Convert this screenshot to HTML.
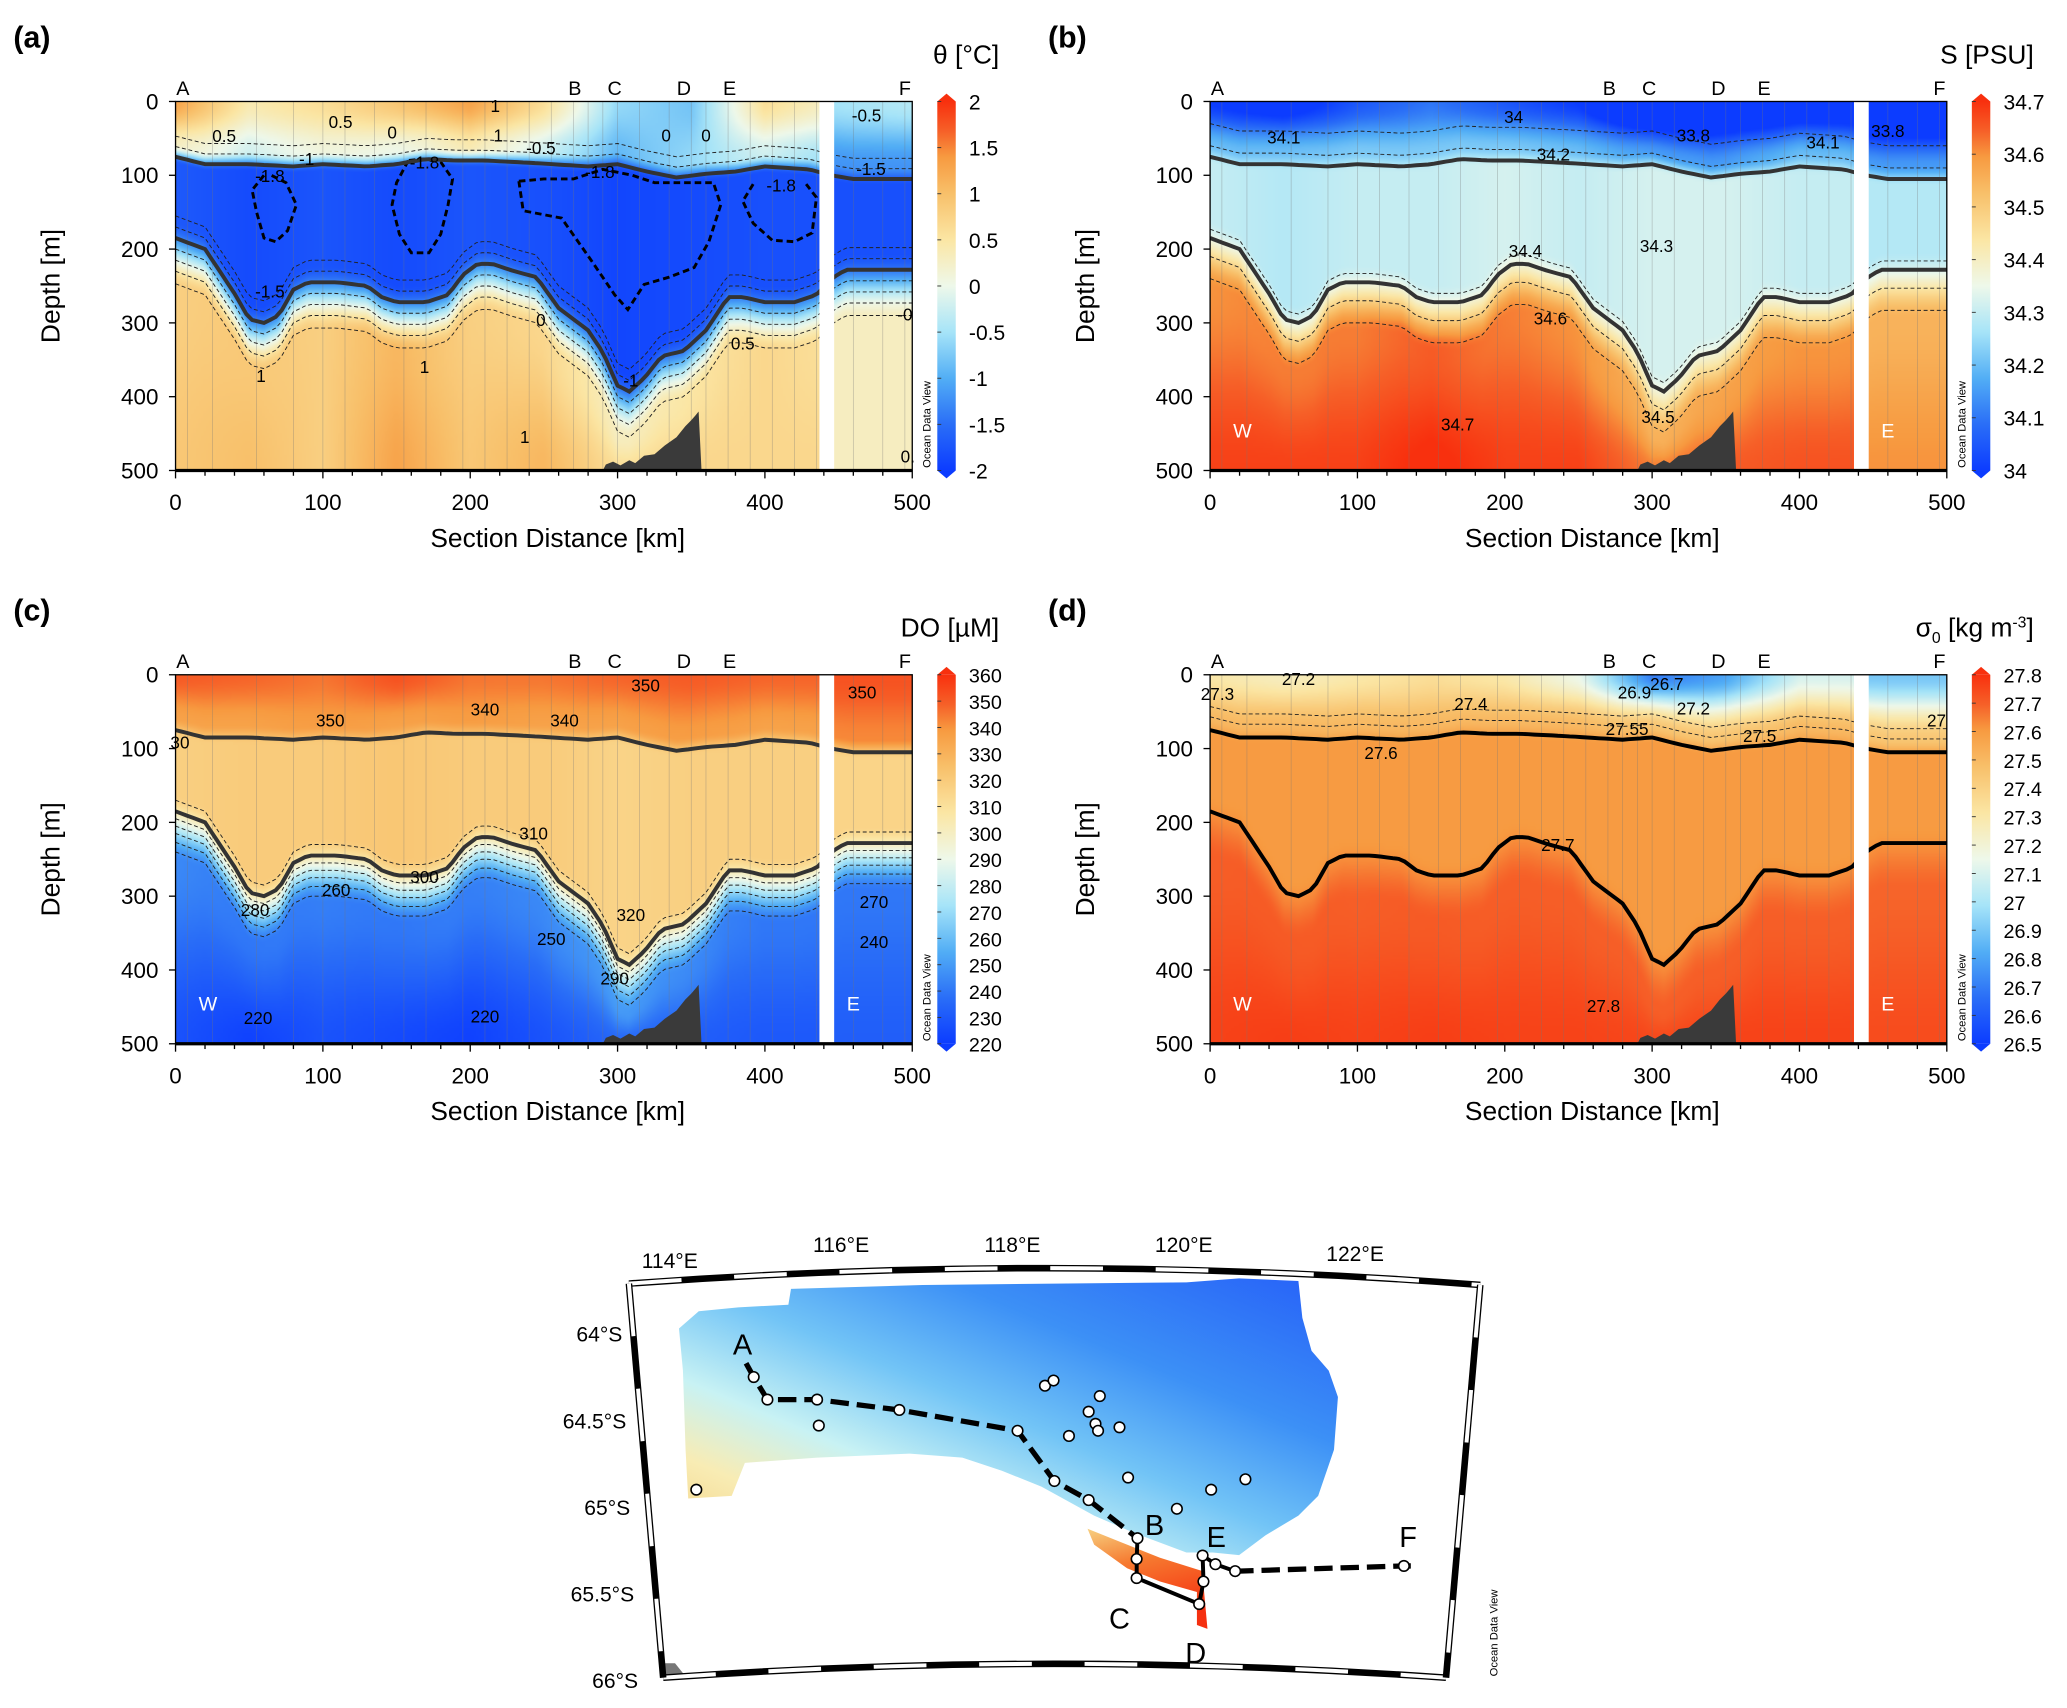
<!DOCTYPE html>
<html><head><meta charset="utf-8">
<style>
html,body{margin:0;padding:0;background:#fff;}
#wrap{position:relative;width:2067px;height:1708px;overflow:hidden;background:#fff;}
canvas{position:absolute;}
svg{position:absolute;left:0;top:0;}
text{font-family:"Liberation Sans",Arial,sans-serif;}
</style></head>
<body>
<div id="wrap">
<canvas id="cv-a"></canvas>
<canvas id="cv-b"></canvas>
<canvas id="cv-c"></canvas>
<canvas id="cv-d"></canvas>
<svg id="fig" width="2067" height="1708" viewBox="0 0 1568 1296" xmlns="http://www.w3.org/2000/svg">
<defs>
<linearGradient id="cbar" x1="0" y1="1" x2="0" y2="0">
<stop offset="0" stop-color="#0c3cff"/><stop offset="0.125" stop-color="#2a6ef7"/>
<stop offset="0.25" stop-color="#52aef5"/><stop offset="0.375" stop-color="#a6e4f8"/>
<stop offset="0.5" stop-color="#eef8ea"/><stop offset="0.625" stop-color="#fbe6a4"/>
<stop offset="0.75" stop-color="#f8c06a"/><stop offset="0.85" stop-color="#f79a40"/>
<stop offset="0.92" stop-color="#f66028"/><stop offset="1" stop-color="#f8300e"/>
</linearGradient>
<linearGradient id="bathy" x1="0" y1="1" x2="1" y2="0">
<stop offset="0" stop-color="#f4cf80"/><stop offset="0.18" stop-color="#f8ecb4"/>
<stop offset="0.32" stop-color="#c8f2f4"/><stop offset="0.5" stop-color="#72c4f6"/>
<stop offset="0.7" stop-color="#3c90f6"/><stop offset="1" stop-color="#2660f8"/>
</linearGradient>
<linearGradient id="slope" x1="0" y1="0" x2="0.3" y2="1">
<stop offset="0" stop-color="#f7d080"/><stop offset="0.4" stop-color="#f67a30"/><stop offset="1" stop-color="#f53010"/>
</linearGradient>
</defs>
<g id="panels"></g>
<g id="map"></g>
</svg>
</div>
<script>
// ---------- DATA ----------
const fieldKm = [0,50,100,150,200,250,300,350,400,437,447,500];
const lineKm  = [0,20,40,50,60,70,80,90,110,130,140,150,170,185,195,205,215,230,245,260,280,290,300,308,318,330,345,360,375,385,400,420,435,445,455,500];
const lowerDepth = [185,200,260,295,300,290,255,245,245,250,265,272,272,262,235,220,220,230,238,280,310,340,385,393,375,345,338,310,265,265,272,272,262,240,228,228];
const upperKm = [0,20,50,80,100,130,150,170,190,210,240,280,300,320,340,360,380,400,430,445,460,500];
const upperDepth = [75,85,85,88,85,88,85,78,80,80,83,88,85,95,103,98,95,88,92,100,105,105];
const seafloorKm = [290,292,297,302,308,312,318,325,332,340,346,350,353,355,357];
const seafloorDepth = [500,492,488,493,486,490,480,478,466,455,440,432,425,420,500];
const stationKm = [8,25,55,80,100,115,135,155,170,195,210,225,240,255,270,280,290,300,315,335,350,360,375,390,405,420,435,460,480,495];
const sectionLetters = ["A","B","C","D","E","F"];
const sectionLetterKm = [5,271,298,345,376,495];

const aTop=[1.3,0.4,0.6,0.9,1.3,0.6,-0.6,-0.8,0.6,0.3,-0.5,-0.4];
const aSurf=[0.3,-0.2,0.1,0.0,0.4,-0.2,-0.9,-0.6,-0.2,-0.5,-1.2,-1.2];
const aCore=[-1.7,-1.85,-1.75,-1.85,-1.75,-1.8,-1.9,-1.85,-1.8,-1.8,-1.8,-1.8];
const aDeep=[0.8,0.9,0.8,1.1,0.8,0.7,0.3,0.5,0.7,0.6,0.3,0.3];
const aBottom=[0.9,1.0,0.8,1.3,0.9,1.1,0.6,0.7,0.7,0.7,0.3,0.3];

const bTop=[34.0,33.95,34.05,34.1,34.05,34.0,33.8,33.85,33.9,33.9,33.8,33.8];
const bSurf=[34.2,34.2,34.22,34.22,34.22,34.2,34.15,34.15,34.2,34.2,34.15,34.15];
const bCore=[34.3,34.28,34.3,34.3,34.32,34.3,34.32,34.32,34.3,34.3,34.28,34.28];
const bDeep=[34.6,34.62,34.62,34.65,34.62,34.6,34.55,34.58,34.6,34.6,34.55,34.55];
const bBottom=[34.68,34.68,34.68,34.71,34.68,34.68,34.62,34.65,34.66,34.66,34.6,34.6];

const cTop=[350,348,345,352,345,345,348,350,348,348,352,352];
const cSurf=[336,336,338,336,338,336,336,338,336,336,342,342];
const cCore=[318,320,320,322,320,320,316,318,318,318,316,316];
const cDeep=[245,240,242,240,242,245,250,245,240,240,240,240];
const cBottom=[228,222,228,225,222,228,235,232,230,230,232,232];

const dTop=[27.3,27.25,27.3,27.35,27.3,27.15,26.7,26.8,27.1,27.1,26.9,26.9];
const dSurf=[27.5,27.5,27.5,27.5,27.5,27.5,27.45,27.45,27.5,27.5,27.45,27.45];
const dCore=[27.6,27.6,27.6,27.6,27.6,27.6,27.6,27.6,27.6,27.6,27.6,27.6];
const dDeep=[27.7,27.71,27.7,27.71,27.7,27.7,27.7,27.7,27.7,27.7,27.69,27.69];
const dBottom=[27.76,27.77,27.76,27.77,27.76,27.76,27.75,27.76,27.76,27.76,27.74,27.74];

const aTicks=["2","1.5","1","0.5","0","-0.5","-1","-1.5","-2"];
const bTicks=["34.7","34.6","34.5","34.4","34.3","34.2","34.1","34"];
const cTicks=["360","350","340","330","320","310","300","290","280","270","260","250","240","230","220"];
const dTicks=["27.8","27.7","27.6","27.5","27.4","27.3","27.2","27.1","27","26.9","26.8","26.7","26.6","26.5"];
const depthTicks=[0,100,200,300,400,500];
const distTicks=[0,100,200,300,400,500];

const loop1=[[60,100],[52,120],[55,150],[60,185],[68,190],[76,175],[82,140],[75,110],[65,100]];
const loop2=[[158,80],[150,110],[147,140],[152,180],[160,205],[172,205],[180,180],[185,140],[188,105],[180,82],[168,78],[158,80]];
const loop3=[[233,108],[250,105],[270,105],[290,92],[310,100],[325,110],[365,110],[370,140],[362,190],[352,225],[335,238],[318,248],[307,282],[298,262],[282,215],[262,158],[236,148],[233,108]];
const loop4=[[392,112],[385,135],[392,165],[405,188],[420,190],[432,178],[435,130],[428,112]];

const aLabels=[["0.5",112,27],["0.5",33,46],["0",147,41],["1",219,45],["1",217,5],["-0.5",248,62],["-1",89,77],["-1.8",64,100],["-1.8",169,82],["-1.8",288,95],["-1.8",411,113],["-1.5",64,257],["0",248,295],["0.5",385,327],["1",58,371],["1",169,359],["1",237,454],["-1",309,377],["-1.5",472,91],["-0.5",469,18],["-0",495,288],["0",333,45],["0",360,45],["0.",497,480]];
const bLabels=[["34.1",50,48],["34",206,20],["33.8",328,45],["34.2",233,71],["34.1",416,55],["33.8",460,39],["34.3",303,195],["34.4",214,202],["34.6",231,293],["34.5",304,427],["34.7",168,437]];
const cLabels=[["350",105,61],["340",210,46],["340",264,61],["350",319,14],["350",466,23],["310",243,214],["300",169,273],["260",109,291],["280",54,318],["320",309,325],["250",255,357],["290",298,411],["270",474,307],["240",474,361],["220",56,464],["220",210,462],["30",3,91]];
const dLabels=[["27.3",5,25],["27.2",60,5],["27.4",177,39],["27.55",283,73],["26.9",288,23],["26.7",310,12],["27.2",328,45],["27.5",373,82],["27.6",116,105],["27.7",236,230],["27.8",267,448],["27",493,61]];

const trackLon=[114.89,114.98,115.14,115.72,116.68,118.06,118.49,118.89,119.46];
const trackLat=[64.17,64.25,64.38,64.38,64.44,64.56,64.85,64.96,65.18];
const solidLon=[119.46,119.45,119.45,120.18,120.23,120.22,120.37,120.60];
const solidLat=[65.18,65.30,65.41,65.56,65.43,65.28,65.33,65.37];
const eastLon=[120.60,122.57,122.65];
const eastLat=[65.37,65.34,65.34];
const extraLon=[114.31,115.74,118.38,118.48,119.02,118.89,118.97,119.00,119.25,118.66,119.35,119.92,120.32,120.72];
const extraLat=[64.90,64.53,64.30,64.27,64.36,64.45,64.52,64.56,64.54,64.59,64.83,65.01,64.90,64.84];
const mapLetters=["A","B","C","D","E","F"];
const mapLetterLon=[114.85,119.66,119.25,120.14,120.38,122.62];
const mapLetterLat=[64.06,65.10,65.64,65.84,65.17,65.17];
const lonLabels=["114°E","116°E","118°E","120°E","122°E"];
const latLabels=["64°S","64.5°S","65°S","65.5°S","66°S"];

// ---------- HELPERS ----------
const S=2067/1568;
const NS="http://www.w3.org/2000/svg";
function el(tag,attrs,parent){const e=document.createElementNS(NS,tag);for(const k in attrs)e.setAttribute(k,attrs[k]);if(parent)parent.appendChild(e);return e;}
function interp(xs,ys,x){if(x<=xs[0])return ys[0];for(let i=1;i<xs.length;i++){if(x<=xs[i]){const t=(x-xs[i-1])/(xs[i]-xs[i-1]);return ys[i-1]+t*(ys[i]-ys[i-1]);}}return ys[ys.length-1];}
function ss(a,b,x){let t=(x-a)/(b-a);t=Math.max(0,Math.min(1,t));return t*t*(3-2*t);}
const cmPos=[0,0.125,0.25,0.375,0.5,0.625,0.75,0.85,0.92,1];
const cmCol=[[12,60,255],[42,110,247],[82,174,245],[166,228,248],[238,248,234],[251,230,164],[248,192,106],[247,154,64],[246,96,40],[248,48,14]];
function cmap(t){t=Math.max(0,Math.min(1,t));for(let i=1;i<cmPos.length;i++){if(t<=cmPos[i]){const f=(t-cmPos[i-1])/(cmPos[i]-cmPos[i-1]);const a=cmCol[i-1],b=cmCol[i];return [a[0]+f*(b[0]-a[0]),a[1]+f*(b[1]-a[1]),a[2]+f*(b[2]-a[2])];}}return cmCol[cmCol.length-1];}

const panels=[
 {id:"a",x0:133,y0:77,min:-2,max:2,top:aTop,surf:aSurf,core:aCore,deep:aDeep,bottom:aBottom,ticks:aTicks,labels:aLabels,title:"θ [°C]",tag:"(a)",lowOff:[-30,-15,15,30,45,62],upOff:[-14,-28],we:false},
 {id:"b",x0:918,y0:77,min:34,max:34.7,top:bTop,surf:bSurf,core:bCore,deep:bDeep,bottom:bBottom,ticks:bTicks,labels:bLabels,title:"S [PSU]",tag:"(b)",lowOff:[-12,25,55],upOff:[-15,-45],we:true},
 {id:"c",x0:133,y0:512,min:220,max:360,top:cTop,surf:cSurf,core:cCore,deep:cDeep,bottom:cBottom,ticks:cTicks,labels:cLabels,title:"DO [µM]",tag:"(c)",lowOff:[-15,10,20,30,42,55],upOff:[],we:true},
 {id:"d",x0:918,y0:512,min:26.5,max:27.8,top:dTop,surf:dSurf,core:dCore,deep:dDeep,bottom:dBottom,ticks:dTicks,labels:dLabels,title:"σ",tag:"(d)",lowOff:[],upOff:[-18,-32],we:true}
];
const PW=559,PH=280;
const G=document.getElementById("panels");

panels.forEach(p=>{
 const cv=document.getElementById("cv-"+p.id);
 const W=300,H=150;cv.width=W;cv.height=H;
 cv.style.left=(p.x0*S)+"px";cv.style.top=(p.y0*S)+"px";
 cv.style.width=(PW*S)+"px";cv.style.height=(PH*S)+"px";
 const ctx=cv.getContext("2d");const img=ctx.createImageData(W,H);
 for(let i=0;i<W;i++){const km=(i+0.5)/W*500;
  const u=interp(upperKm,upperDepth,km),l=interp(lineKm,lowerDepth,km);
  const tv=interp(fieldKm,p.top,km),sv=interp(fieldKm,p.surf,km),cvv=interp(fieldKm,p.core,km),dv=interp(fieldKm,p.deep,km),bv=interp(fieldKm,p.bottom,km);
  for(let j=0;j<H;j++){const z=(j+0.5)/H*500;
   let v=tv+(sv-tv)*ss(0,u-15,z);
   v=v+(cvv-v)*ss(u-18,u+8,z);
   v=v+(dv-v)*ss(l-25,l+65,z);
   v=v+(bv-v)*ss(l+65,500,z);
   const c=cmap((v-p.min)/(p.max-p.min));const k=(j*W+i)*4;
   img.data[k]=c[0];img.data[k+1]=c[1];img.data[k+2]=c[2];img.data[k+3]=255;}}
 ctx.putImageData(img,0,0);

 const g=el("g",{},G);
 
 
 const X=km=>p.x0+km/500*PW, Y=d=>p.y0+d/500*PH;
 stationKm.forEach(k=>{const ln=el("line",{x1:X(k),x2:X(k),y1:Y(0),y2:Y(500),stroke:"#777","stroke-width":0.5,opacity:0.45},g);
  });
 function pathFrom(xs,ys,off){let s="";for(let k=0;k<=500;k+=4){const dd=Math.min(500,Math.max(0,interp(xs,ys,k)+off));s+=(s?"L":"M")+X(k).toFixed(1)+","+Y(dd).toFixed(1);}return s;}
 p.lowOff.forEach(o=>{const c=el("path",{d:pathFrom(lineKm,lowerDepth,o),fill:"none",stroke:"#222","stroke-width":0.7,"stroke-dasharray":"3,2"},g);
  });
 p.upOff.forEach(o=>{const c=el("path",{d:pathFrom(upperKm,upperDepth,o),fill:"none",stroke:"#222","stroke-width":0.7,"stroke-dasharray":"3,2"},g);
  });
 if(p.id==="a"){[loop1,loop2,loop3,loop4].forEach(L=>{const c=el("path",{d:L.map((q,i)=>(i?"L":"M")+X(q[0]).toFixed(1)+","+Y(q[1]).toFixed(1)).join(""),fill:"none",stroke:"#000","stroke-width":2.2,"stroke-dasharray":"5,3"},g);
  });}
 const up=el("path",{d:pathFrom(upperKm,upperDepth,0),fill:"none",stroke:p.id==="d"?"#000":"#333","stroke-width":3},g);
 
 const lo=el("path",{d:pathFrom(lineKm,lowerDepth,0),fill:"none",stroke:p.id==="d"?"#000":"#333","stroke-width":3},g);
 
 p.labels.forEach(L=>{const t=el("text",{x:X(L[1]),y:Y(L[2])+5,"font-size":13,"text-anchor":"middle",fill:"#000"},g);t.textContent=L[0];
  });
 const gap=el("rect",{x:X(437),y:Y(0),width:X(447)-X(437),height:PH,fill:"#fff"},g);
 
 const sf=el("polygon",{points:seafloorKm.map((k,i)=>X(k).toFixed(1)+","+Y(seafloorDepth[i]).toFixed(1)).join(" "),fill:"#3a3a3a"},g);
 
 if(p.we){const w=el("text",{x:X(22),y:Y(455),"font-size":15,fill:"#fff","text-anchor":"middle"},g);w.textContent="W";
  
  const e=el("text",{x:X(460),y:Y(455),"font-size":15,fill:"#fff","text-anchor":"middle"},g);e.textContent="E";
  }
 const fr=el("rect",{x:p.x0,y:p.y0,width:PW,height:PH,fill:"none",stroke:"#000","stroke-width":1},g);
 
 el("line",{x1:p.x0,x2:p.x0+PW,y1:p.y0+PH,y2:p.y0+PH,stroke:"#000","stroke-width":2.5},g);
 depthTicks.forEach(d=>{el("line",{x1:p.x0-5,x2:p.x0,y1:Y(d),y2:Y(d),stroke:"#000","stroke-width":1},g);
  const t=el("text",{x:p.x0-13,y:Y(d)+6,"font-size":17,"text-anchor":"end"},g);t.textContent=d;
  });
 for(let k=0;k<=500;k+=20){el("line",{x1:X(k),x2:X(k),y1:p.y0+PH,y2:p.y0+PH+(k%100?4:6),stroke:"#000","stroke-width":1},g);}
 distTicks.forEach(k=>{const t=el("text",{x:X(k),y:p.y0+PH+30,"font-size":17,"text-anchor":"middle"},g);t.textContent=k;
  });
 const xt=el("text",{x:p.x0+290,y:p.y0+PH+58,"font-size":20,"text-anchor":"middle"},g);xt.textContent="Section Distance [km]";
 
 const yt=el("text",{x:0,y:0,"font-size":20,"text-anchor":"middle",transform:`translate(${p.x0-88},${p.y0+140}) rotate(-90)`},g);yt.textContent="Depth [m]";
 
 sectionLetters.forEach((L,i)=>{const t=el("text",{x:X(sectionLetterKm[i]),y:p.y0-5,"font-size":15,"text-anchor":"middle"},g);t.textContent=L;
  });
 const tg=el("text",{x:p.x0-123,y:p.y0-41,"font-size":23,"font-weight":"bold"},g);tg.textContent=p.tag;
 
 const cx=p.x0+578;
 const cb=el("rect",{x:cx,y:p.y0,width:14,height:PH,fill:"url(#cbar)"},g);
 
 el("polygon",{points:`${cx},${p.y0} ${cx+7},${p.y0-6} ${cx+14},${p.y0}`,fill:"#f8300e"},g);
 el("polygon",{points:`${cx},${p.y0+PH} ${cx+7},${p.y0+PH+6} ${cx+14},${p.y0+PH}`,fill:"#0c3cff"},g);
 const n=p.ticks.length;
 p.ticks.forEach((tk,i)=>{const yy=p.y0+i*PH/(n-1);
  el("line",{x1:cx,x2:cx+3,y1:yy,y2:yy,stroke:"#333","stroke-width":0.7},g);
  const t=el("text",{x:cx+24,y:yy+6,"font-size":n>10?15:16},g);t.textContent=tk;
  });
 const odv=el("text",{x:0,y:0,"font-size":8.5,"text-anchor":"start",transform:`translate(${cx-5},${p.y0+PH-2}) rotate(-90)`},g);odv.textContent="Ocean Data View";
 
 const ct=el("text",{x:p.x0+625,y:p.y0-29,"font-size":20,"text-anchor":"end"},g);
 if(p.id==="d"){ct.innerHTML='σ<tspan font-size="12" dy="5">0</tspan><tspan dy="-5"> [kg m</tspan><tspan font-size="12" dy="-7">-3</tspan><tspan dy="7">]</tspan>';}
 else ct.textContent=p.title;
 
});

// ---------- MAP ----------
const M=document.getElementById("map");
const MX=lon=>508+(lon-114)*65, MY=lat=>1012+(lat-64)*131.5;
const bp=el("polygon",{points:"515,1008 530,995 560,992 598,990 600,978 700,975 800,974 900,973 940,970 985,972 988,1000 995,1025 1008,1040 1015,1060 1012,1100 1000,1135 985,1150 960,1165 940,1180 920,1178 900,1178 860,1163 830,1150 790,1128 760,1116 730,1106 690,1103 620,1106 565,1110 555,1135 522,1137 520,1100 518,1040",fill:"url(#bathy)"},M);

const sl=el("polygon",{points:"825,1160 850,1170 880,1182 912,1192 916,1236 908,1233 908,1208 880,1200 855,1190 830,1172",fill:"url(#slope)"},M);

el("polygon",{points:"503,1262 512,1262 520,1272 503,1274",fill:"#777"},M);
const topArc="M477,974 Q800,950 1123,975", botArc="M503,1273 Q800,1252 1097,1273";
[topArc,botArc,"M477,974 L503,1273","M1123,975 L1097,1273"].forEach(d=>{
 const f=el("path",{d:d,fill:"none",stroke:"#000","stroke-width":5},M);
 
 el("path",{d:d,fill:"none",stroke:"#fff","stroke-width":3,"stroke-dasharray":"40,40"},M);});
lonLabels.forEach((L,i)=>{const t=el("text",{x:MX(114+2*i),y:962-(i===0?0:(i===4?5:12)),"font-size":16,"text-anchor":"middle"},M);t.textContent=L;
 });
latLabels.forEach((L,i)=>{const t=el("text",{x:472+i*3,y:MY(64+0.5*i)+6,"font-size":16,"text-anchor":"end"},M);t.textContent=L;
 });
function pl(lons,lats){return lons.map((l,i)=>MX(l).toFixed(1)+","+MY(lats[i]).toFixed(1)).join(" ");}
const t1=el("polyline",{points:pl(trackLon,trackLat),fill:"none",stroke:"#000","stroke-width":4,"stroke-dasharray":"14,6"},M);

const t2=el("polyline",{points:pl(solidLon,solidLat),fill:"none",stroke:"#000","stroke-width":3},M);

const t3=el("polyline",{points:pl(eastLon,eastLat),fill:"none",stroke:"#000","stroke-width":4,"stroke-dasharray":"14,6"},M);

const allLon=trackLon.slice(1).concat(solidLon.slice(1),[122.57],extraLon), allLat=trackLat.slice(1).concat(solidLat.slice(1),[65.34],extraLat);
allLon.forEach((l,i)=>{const c=el("circle",{cx:MX(l),cy:MY(allLat[i]),r:4,fill:"#fff",stroke:"#000","stroke-width":1.2},M);
 });
mapLetters.forEach((L,i)=>{const t=el("text",{x:MX(mapLetterLon[i]),y:MY(mapLetterLat[i])+8,"font-size":22,"text-anchor":"middle"},M);t.textContent=L;
 });
const mo=el("text",{x:0,y:0,"font-size":8.5,transform:"translate(1136,1272) rotate(-90)"},M);mo.textContent="Ocean Data View";

</script>
</body></html>
